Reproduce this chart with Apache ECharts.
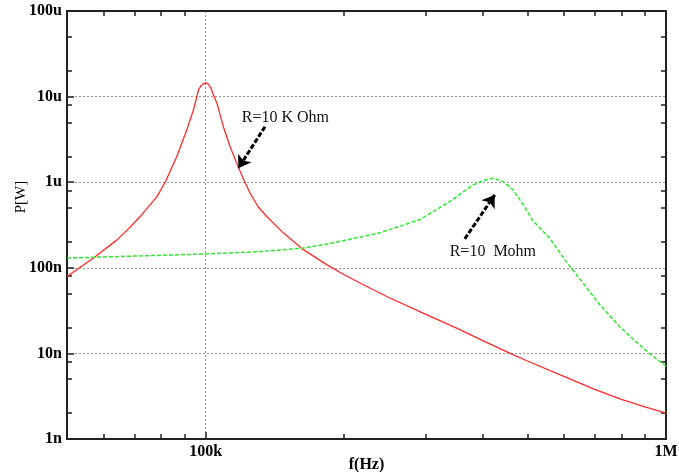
<!DOCTYPE html>
<html><head><meta charset="utf-8">
<script src="https://cdn.jsdelivr.net/npm/echarts@6/dist/echarts.min.js"></script>
<style>html,body{margin:0;padding:0;background:#fff}#c{width:679px;height:472px}</style>
</head><body><div id="c"></div>
<script>
// ---- data ----
const redFreq  = [50000, 57100, 64200, 68000, 72100, 78400, 81700, 86600, 91000, 94100, 96500, 97700, 98900, 100000, 101200, 102300, 105800, 109300, 113000, 117800, 121000, 124900, 130000, 135800, 147500, 163000, 183200, 200000, 225000, 250000, 300000, 350000, 400000, 450000, 500000, 600000, 700000, 800000, 900000, 1000000];
const redPower = [79e-9, 130e-9, 212e-9, 285e-9, 397e-9, 679e-9, 1.0e-6, 2.0e-6, 4.07e-6, 6.96e-6, 11.9e-6, 13.4e-6, 14.1e-6, 14.5e-6, 14.1e-6, 13.1e-6, 8.38e-6, 4.45e-6, 2.61e-6, 1.5e-6, 1.07e-6, 748e-9, 516e-9, 397e-9, 256e-9, 163e-9, 109e-9, 83e-9, 59.7e-9, 45e-9, 28.7e-9, 19.9e-9, 14.1e-9, 10.5e-9, 8.15e-9, 5.38e-9, 3.8e-9, 2.91e-9, 2.37e-9, 2.0e-9];
const greenFreq  = [50000, 100000, 130000, 163000, 186000, 239000, 292000, 339000, 381000, 405000, 421000, 442600, 465300, 489000, 514000, 558800, 607000, 660000, 717500, 793000, 854600, 920000, 1000000];
const greenPower = [130e-9, 145e-9, 154e-9, 170e-9, 192e-9, 256e-9, 366e-9, 594e-9, 931e-9, 1.06e-6, 1.11e-6, 1.02e-6, 813e-9, 551e-9, 355e-9, 222e-9, 118e-9, 66.5e-9, 37.2e-9, 20.6e-9, 14.1e-9, 10e-9, 7.1e-9];

const xLabelValues = [1e5, 1e6];
const xLabelTexts  = ['100k', '1M'];
const yLabelValues = [1e-9, 1e-8, 1e-7, 1e-6, 1e-5, 1e-4];
const yLabelTexts  = ['1n', '10n', '100n', '1u', '10u', '100u'];
const xMinorTicks = [60000, 70000, 80000, 90000, 200000, 300000, 400000, 500000, 600000, 700000, 800000, 900000];
const yMinorTicks = [2e-9, 5e-9, 8e-9, 2e-8, 5e-8, 8e-8, 2e-7, 5e-7, 8e-7, 2e-6, 5e-6, 8e-6, 2e-5, 5e-5];

const noteTexts = ['R=10 K Ohm', 'R=10  Mohm'];
const noteAt    = [[119800, 5.66e-6], [339000, 1.55e-7]];
const arrowFrom = [[134600, 4.45e-6], [365600, 218e-9]];
const arrowTo   = [[117800, 1.46e-6], [424600, 711e-9]];

const X_MIN = 50000, X_MAX = 1e6, Y_MIN = 1e-9, Y_MAX = 1e-4;
const FONT = '"Liberation Serif", "Times New Roman", serif';

function pickLabel(vals, texts, v) {
  for (let i = 0; i < vals.length; i++) {
    if (Math.abs(Math.log10(v) - Math.log10(vals[i])) < 1e-6) return texts[i];
  }
  return '';
}

const chart = echarts.init(document.getElementById('c'));
const axisLine = { show: true, onZero: false, lineStyle: { color: '#222', width: 2 } };
const tickAxisX = (pos) => ({
  type: 'log', logBase: 10, min: X_MIN, max: X_MAX, position: pos,
  axisLine: axisLine, axisLabel: { show: false }, splitLine: { show: false },
  axisTick: { show: true, inside: true, length: 5, customValues: xMinorTicks, lineStyle: { color: '#222', width: 1.5 } }
});
const tickAxisY = (pos) => ({
  type: 'log', logBase: 10, min: Y_MIN, max: Y_MAX, position: pos,
  axisLine: axisLine, axisLabel: { show: false }, splitLine: { show: false },
  axisTick: { show: true, inside: true, length: 5, customValues: yMinorTicks, lineStyle: { color: '#222', width: 1.5 } }
});

const mkArrow = (i) => ([{ coord: arrowFrom[i] }, { coord: arrowTo[i] }]);

chart.setOption({
  animation: false,
  backgroundColor: '#fff',
  grid: { left: 67, right: 13, top: 11, bottom: 33, containLabel: false, outerBoundsMode: 'none' },
  xAxis: [
    {
      type: 'log', logBase: 10, min: X_MIN, max: X_MAX, position: 'bottom',
      name: 'f(Hz)', nameLocation: 'middle', nameGap: 18, nameMoveOverlap: false,
      nameTextStyle: { fontFamily: FONT, fontSize: 16, fontWeight: 'bold', color: '#000' },
      axisLine: axisLine,
      axisTick: { show: true, inside: true, length: 7, lineStyle: { color: '#222', width: 1.5 } },
      axisLabel: { fontFamily: FONT, fontSize: 16, fontWeight: 'bold', color: '#000', margin: 5,
        formatter: (v) => pickLabel(xLabelValues, xLabelTexts, v) },
      splitLine: { show: true, lineStyle: { color: '#999', type: [2, 2], width: 1 } }
    },
    tickAxisX('bottom'),
    tickAxisX('top')
  ],
  yAxis: [
    {
      type: 'log', logBase: 10, min: Y_MIN, max: Y_MAX, position: 'left',
      name: 'P[W]', nameLocation: 'middle', nameGap: 38, nameRotate: 90, nameMoveOverlap: false,
      nameTextStyle: { fontFamily: FONT, fontSize: 15, color: '#000', padding: [0, 0, 0, 56] },
      axisLine: axisLine,
      axisTick: { show: true, inside: true, length: 7, lineStyle: { color: '#222', width: 1.5 } },
      axisLabel: { fontFamily: FONT, fontSize: 16, fontWeight: 'bold', color: '#000', margin: 5,
        formatter: (v) => pickLabel(yLabelValues, yLabelTexts, v) },
      splitLine: { show: true, lineStyle: { color: '#999', type: [2, 2], width: 1 } }
    },
    tickAxisY('left'),
    tickAxisY('right')
  ],
  series: [
    {
      type: 'line', xAxisIndex: 0, yAxisIndex: 0,
      data: redFreq.map((f, i) => [f, redPower[i]]),
      showSymbol: false, smooth: false, clip: true,
      lineStyle: { color: '#ff2a2a', width: 1.3, join: 'round' },
      markLine: {
        silent: true, symbol: ['none', 'arrow'], symbolSize: 12,
        label: { show: false },
        lineStyle: { color: '#000', width: 3, type: [5, 2] },
        data: [mkArrow(0)]
      }
    },
    {
      type: 'line', xAxisIndex: 0, yAxisIndex: 0,
      data: greenFreq.map((f, i) => [f, greenPower[i]]),
      showSymbol: false, smooth: false, clip: true,
      lineStyle: { color: '#2ee82e', width: 1.5, type: [4, 2], join: 'round' },
      markLine: {
        silent: true, symbol: ['none', 'arrow'], symbolSize: 12,
        label: { show: false },
        lineStyle: { color: '#000', width: 3, type: [5, 2] },
        data: [mkArrow(1)]
      }
    }
  ]
});

const graphics = noteTexts.map((t, i) => {
  const p = chart.convertToPixel({ xAxisIndex: 0, yAxisIndex: 0 }, noteAt[i]);
  return {
    type: 'text', x: p[0], y: p[1],
    style: { text: t, font: '16px ' + FONT, fill: '#111', textAlign: 'left', textVerticalAlign: 'middle' }
  };
});
chart.setOption({ graphic: graphics });
</script>
</body></html>
